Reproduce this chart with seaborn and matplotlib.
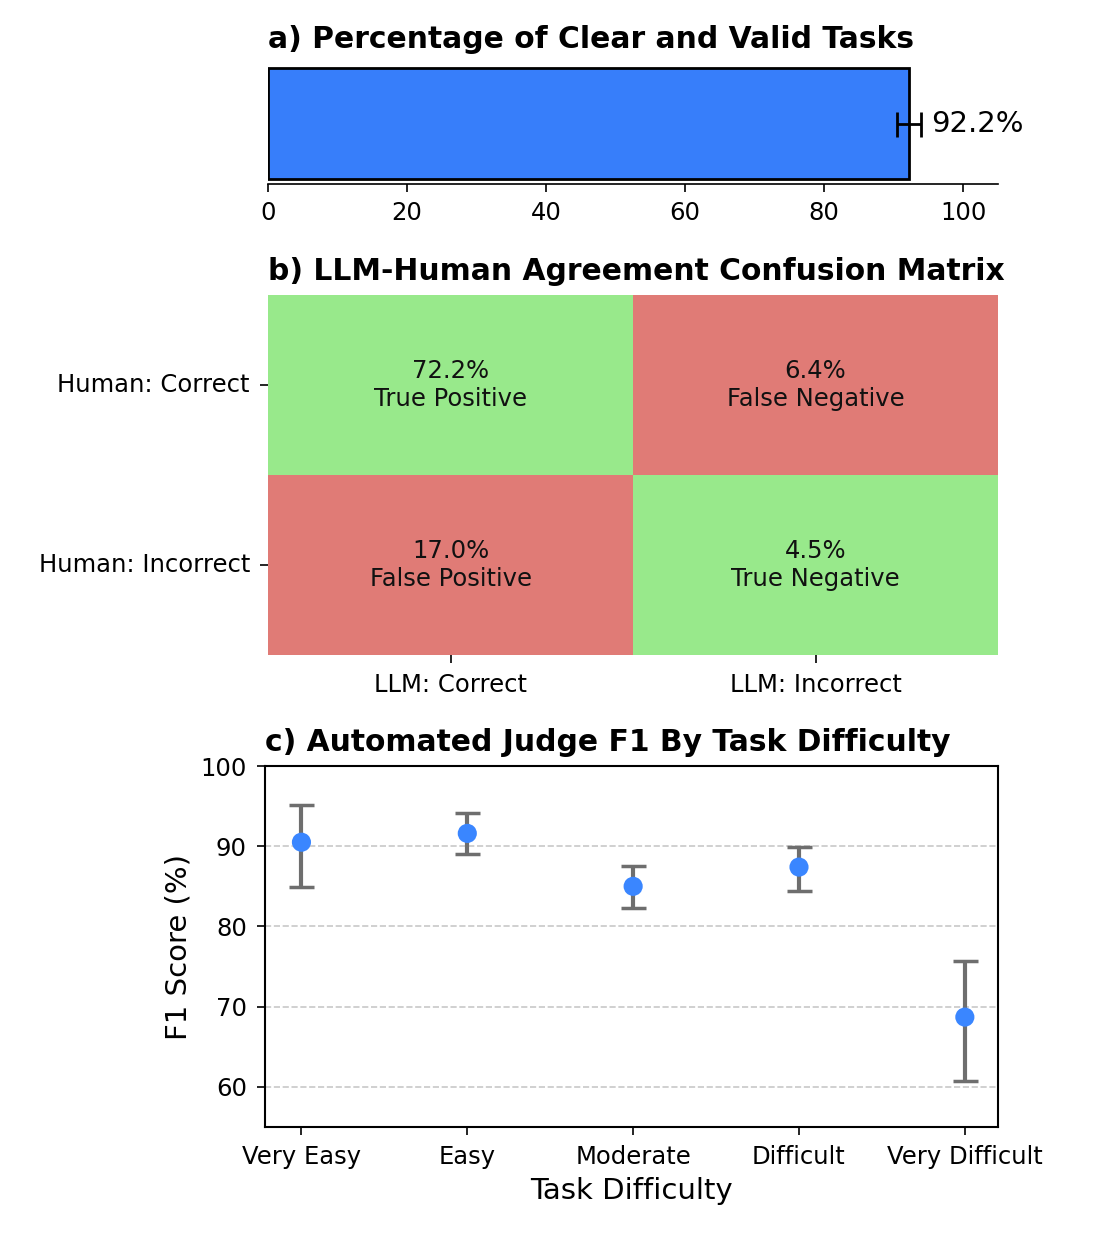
import numpy as np
import pandas as pd
import matplotlib
matplotlib.use("Agg")
import matplotlib.pyplot as plt
import seaborn as sns
from matplotlib.colors import ListedColormap

sns.set_style("white")
plt.rcParams['font.family'] = ['DejaVu Sans']
plt.rcParams['text.color'] = 'black'
plt.rcParams['axes.labelcolor'] = 'black'
plt.rcParams['xtick.color'] = 'black'
plt.rcParams['ytick.color'] = 'black'

# a) clear / valid tasks
valid_label = ["Valid"]
valid_pct = [92.2]
valid_err = [1.7]

# b) confusion matrix
row_labels = ["Human: Correct", "Human: Incorrect"]
col_labels = ["LLM: Correct", "LLM: Incorrect"]
cm_pct = np.array([[72.2, 6.4], [17.0, 4.5]])
cm_names = np.array([["True Positive", "False Negative"], ["False Positive", "True Negative"]])
cm_agree = np.array([[1, 0], [0, 1]])

# c) F1 by difficulty
difficulty = ["Very Easy", "Easy", "Moderate", "Difficult", "Very Difficult"]
f1 = [90.5, 91.6, 85.0, 87.4, 68.7]
f1_low = [84.9, 89.0, 82.3, 84.4, 60.7]
f1_high = [95.1, 94.1, 87.5, 89.9, 75.7]

blue = "#3A86FF"
tick_fs = 17.5
title_fs = 21.4
fig = plt.figure(figsize=(11.04, 12.5), dpi=100)

# ---- panel a
ax1 = fig.add_axes([0.2428, 0.8528, 0.6612, 0.0968])
dfa = pd.DataFrame({"label": valid_label, "pct": valid_pct})
sns.barplot(data=dfa, x="pct", y="label", color="#377EFA", edgecolor="black",
            linewidth=2, width=0.92, saturation=1, ax=ax1)
ax1.errorbar(valid_pct, [0], xerr=valid_err, fmt="none", ecolor="black",
             elinewidth=2, capsize=9, capthick=2)
ax1.text(valid_pct[0] + valid_err[0] + 1.5, 0, f"{valid_pct[0]}%", va="center",
         ha="left", fontsize=21)
ax1.set_xlim(0, 105)
ax1.set_ylim(0.5, -0.5)
ax1.set_yticks([])
ax1.set_xlabel("")
ax1.set_ylabel("")
ax1.set_xticks([0, 20, 40, 60, 80, 100])
ax1.tick_params(axis="x", labelsize=tick_fs, length=6, width=1.2, bottom=True, pad=6)
sns.despine(ax=ax1, left=True)
ax1.spines["bottom"].set_linewidth(1.2)
ax1.spines["bottom"].set_color("black")
ax1.set_title("a) Percentage of Clear and Valid Tasks", loc="left",
              fontsize=title_fs, fontweight="bold", pad=11)

# ---- panel b
ax2 = fig.add_axes([0.2428, 0.476, 0.6612, 0.288])
annot = np.array([[f"{cm_pct[i, j]:.1f}%\n{cm_names[i, j]}" for j in range(2)]
                  for i in range(2)])
sns.heatmap(cm_agree, annot=annot, fmt="", cmap=ListedColormap(["#E07B76", "#98E98B"]),
            cbar=False, xticklabels=col_labels, yticklabels=row_labels,
            annot_kws={"fontsize": 17.5, "color": "#111111", "linespacing": 1.25}, ax=ax2)
ax2.tick_params(axis="both", labelsize=tick_fs, length=6, width=1.2, left=True,
                bottom=True, pad=7)
plt.setp(ax2.get_yticklabels(), rotation=0)
ax2.set_title("b) LLM-Human Agreement Confusion Matrix", loc="left",
              fontsize=title_fs, fontweight="bold", pad=11)

# ---- panel c
ax3 = fig.add_axes([0.2400, 0.0984, 0.6640, 0.2888])
dfc = pd.DataFrame({"difficulty": difficulty, "f1": f1})
yerr = [np.array(f1) - np.array(f1_low), np.array(f1_high) - np.array(f1)]
ax3.errorbar(np.arange(len(difficulty)), f1, yerr=yerr, fmt="none", ecolor="#6E6E6E",
             elinewidth=3, capsize=9, capthick=2.5, zorder=2)
sns.scatterplot(data=dfc, x="difficulty", y="f1", color=blue, s=190,
                edgecolor="none", zorder=3, ax=ax3)
ax3.set_xlim(-0.22, 4.2)
ax3.set_ylim(55, 100)
ax3.set_yticks([60, 70, 80, 90, 100])
ax3.grid(axis="y", linestyle="--", color="#C8C8C8", linewidth=1.2)
ax3.tick_params(axis="both", labelsize=tick_fs, length=6, width=1.2, left=True,
                bottom=True, pad=7)
for s in ax3.spines.values():
    s.set_linewidth(1.5)
    s.set_color("black")
ax3.set_xlabel("Task Difficulty", fontsize=21, labelpad=6)
ax3.set_ylabel("F1 Score (%)", fontsize=21, labelpad=6)
ax3.set_title("c) Automated Judge F1 By Task Difficulty", loc="left",
              fontsize=title_fs, fontweight="bold", pad=11)

fig.savefig("out.png", dpi=100)
